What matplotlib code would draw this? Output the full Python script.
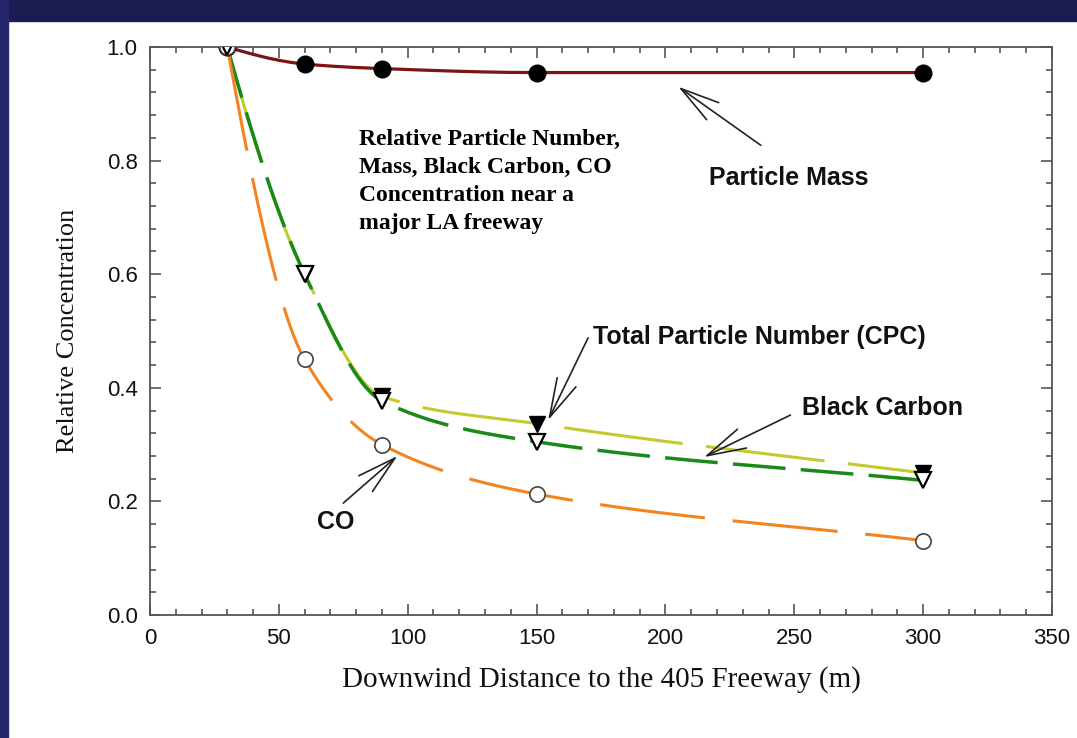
import matplotlib
matplotlib.use('Agg')
import matplotlib.pyplot as plt
from matplotlib.patches import Rectangle
from matplotlib.ticker import MultipleLocator
import numpy as np

# distances (m) and relative concentrations
distance = [30, 60, 90, 150, 300]
particle_mass = [1.0, 0.970, 0.962, 0.955, 0.955]
cpc_number = [1.0, 0.600, 0.385, 0.337, 0.250]
black_carbon = [1.0, 0.600, 0.377, 0.305, 0.237]
co = [1.0, 0.450, 0.300, 0.213, 0.131]

x_ticks = [0, 50, 100, 150, 200, 250, 300, 350]
y_ticks = [0.0, 0.2, 0.4, 0.6, 0.8, 1.0]


def smooth(x, y, n=400):
    # monotone cubic through the points, just for drawing the curve
    x = np.asarray(x, float)
    y = np.asarray(y, float)
    h = np.diff(x)
    d = np.diff(y) / h
    m = np.zeros_like(y)
    for k in range(1, len(x) - 1):
        if d[k - 1] * d[k] > 0:
            w1 = 2 * h[k] + h[k - 1]
            w2 = h[k] + 2 * h[k - 1]
            m[k] = (w1 + w2) / (w1 / d[k - 1] + w2 / d[k])
    m[0] = ((2 * h[0] + h[1]) * d[0] - h[0] * d[1]) / (h[0] + h[1])
    # keep the tail nearly straight, like the original plot
    m[-1] = d[-1]
    xs = np.linspace(x[0], x[-1], n)
    idx = np.clip(np.searchsorted(x, xs) - 1, 0, len(x) - 2)
    t = (xs - x[idx]) / h[idx]
    h00 = 2 * t**3 - 3 * t**2 + 1
    h10 = t**3 - 2 * t**2 + t
    h01 = -2 * t**3 + 3 * t**2
    h11 = t**3 - t**2
    ys = h00 * y[idx] + h10 * h[idx] * m[idx] + h01 * y[idx + 1] + h11 * h[idx] * m[idx + 1]
    return xs, ys


plt.rcParams['lines.scale_dashes'] = False
plt.rcParams['font.family'] = 'Liberation Sans'

fig = plt.figure(figsize=(10.77, 7.38), dpi=100)
fig.patch.set_facecolor('white')
# dark blue slide border (top and left)
fig.patches.append(Rectangle((0, 1 - 21 / 738), 1, 21 / 738, transform=fig.transFigure,
                             color='#1c1c52', zorder=0))
fig.patches.append(Rectangle((0, 0), 8 / 1077, 1, transform=fig.transFigure,
                             color='#25256c', zorder=0))

ax = fig.add_axes([150 / 1077, 1 - 615 / 738, (1052 - 150) / 1077, (615 - 47) / 738])

# curves
xs, ys = smooth(distance, particle_mass)
ax.plot(xs, ys, color='#7b1414', lw=2.3, zorder=3)
xs, ys = smooth(distance, cpc_number)
ax.plot(xs, ys, color='#c3cb2c', lw=2.2, ls=(0, (86, 17)), zorder=2)
xs, ys = smooth(distance, black_carbon)
ax.plot(xs, ys, color='#198a19', lw=2.5, ls=(0, (38, 11)), zorder=3)
xs, ys = smooth(distance, co)
ax.plot(xs, ys, color='#f5831f', lw=2.2, ls=(0, (76, 20)), zorder=3)

# markers
ax.plot(distance, particle_mass, 'o', ms=12, color='black', zorder=5)
ax.plot(distance, cpc_number, 'v', ms=11, color='black', zorder=5)
ax.plot(distance, co, 'o', ms=11, mfc='white', mec='#444444', mew=1.2, zorder=6)
ax.plot(distance, black_carbon, 'v', ms=11, mfc='white', mec='black', mew=1.6, zorder=7)

ax.set_xlim(0, 350)
ax.set_ylim(0, 1.0)
ax.set_xticks(x_ticks)
ax.set_yticks(y_ticks)
ax.set_xticklabels([str(v) for v in x_ticks])
ax.set_yticklabels(['%.1f' % v for v in y_ticks])
ax.xaxis.set_minor_locator(MultipleLocator(10))
ax.yaxis.set_minor_locator(MultipleLocator(0.04))
ax.tick_params(which='both', direction='in', top=True, right=True, color='#555555',
               width=1.2, labelsize=16, pad=9, labelcolor='#111111')
ax.tick_params(which='major', length=8)
ax.tick_params(which='minor', length=4.5)
for sp in ax.spines.values():
    sp.set_color('#555555')
    sp.set_linewidth(1.3)

ax.set_xlabel('Downwind Distance to the 405 Freeway (m)', family='Liberation Serif',
              fontsize=21, labelpad=13, color='#111111')
ax.set_ylabel('Relative Concentration', family='Liberation Serif', fontsize=19,
              labelpad=20, color='#111111')

ax.text(81, 0.855, 'Relative Particle Number,\nMass, Black Carbon, CO\n'
        'Concentration near a\nmajor LA freeway', family='Liberation Serif',
        fontweight='bold', fontsize=17, va='top', ha='left', linespacing=1.42)

arrow = dict(arrowstyle='->,head_length=2.8,head_width=0.75', mutation_scale=10,
             lw=1.2, color='#222222', shrinkA=0, shrinkB=0)
lab = dict(fontsize=18, fontweight='bold', color='#111111', va='center')

ax.annotate('', xy=(205, 0.930), xytext=(237, 0.827), arrowprops=arrow)
ax.text(217, 0.769, 'Particle Mass', ha='left', **lab)

ax.annotate('', xy=(154.5, 0.343), xytext=(170, 0.488), arrowprops=arrow)
ax.text(172, 0.489, 'Total Particle Number (CPC)', ha='left', **lab)

ax.annotate('', xy=(215, 0.278), xytext=(248.5, 0.352), arrowprops=arrow)
ax.text(253, 0.365, 'Black Carbon', ha='left', **lab)

ax.annotate('', xy=(96, 0.280), xytext=(75, 0.197), arrowprops=arrow)
ax.text(72, 0.164, 'CO', ha='center', **lab)

fig.savefig('out.png', dpi=100, facecolor=fig.get_facecolor())
